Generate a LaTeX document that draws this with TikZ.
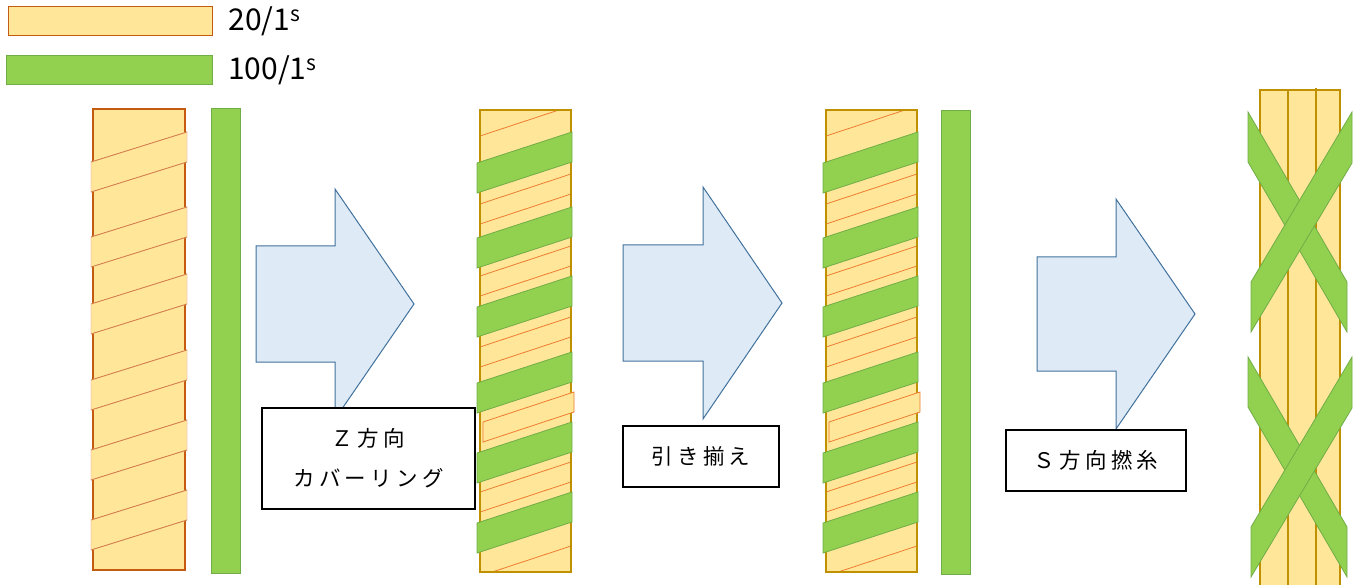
\documentclass[tikz,border=0pt]{standalone}
\usepackage{fontspec}
\setmainfont{Noto Sans CJK JP}
\newfontfamily\boxfont[LetterSpace=20]{Noto Sans CJK JP}
\usepackage{xcolor}
\usetikzlibrary{positioning}
\definecolor{YarnCream}{HTML}{FFE699}
\definecolor{YarnOrange}{HTML}{C55A11}
\definecolor{WrapOrange}{HTML}{ED7D31}
\definecolor{WrapLight}{HTML}{F8CBAD}
\definecolor{YarnGold}{HTML}{BF9000}
\definecolor{YarnGreen}{HTML}{92D050}
\definecolor{GreenEdge}{HTML}{70AD47}
\definecolor{FlowFill}{HTML}{DEEBF7}
\definecolor{FlowEdge}{HTML}{41719C}
\tikzset{
    % yarn bodies
    coarse yarn/.style={
        fill=YarnCream,
        draw=YarnOrange,
        line width=1.3pt
    },
    fine yarn/.style={
        fill=YarnGreen,
        draw=GreenEdge,
        line width=1pt
    },
    gold edge/.style={
        draw=YarnGold,
        line width=1.3pt
    },
    % wraps around a yarn
    cream band/.style={
        fill=YarnCream,
        draw=WrapLight,
        line width=0.8pt
    },
    wrap line/.style={
        draw=WrapOrange,
        line width=0.8pt
    },
    green band/.style={
        fill=YarnGreen,
        draw=GreenEdge,
        line width=0.8pt
    },
    % process arrows and their captions
    flow arrow/.style={
        fill=FlowFill,
        draw=FlowEdge,
        line width=1pt,
        line join=miter
    },
    stepbox/.style={
        rectangle,
        draw=black,
        line width=1.2pt,
        fill=white,
        align=center,
        font=\boxfont\fontsize{21.5pt}{40pt}\selectfont
    },
    legend text/.style={
        font=\fontsize{30pt}{34pt}\selectfont,
        inner sep=0pt
    }
}

\begin{document}
\begin{tikzpicture}[x=1pt, y=-1pt]
    \useasboundingbox (0,0) rectangle (1359,585);

    % Legend
    \node[coarse yarn, minimum width=204pt, minimum height=29pt, anchor=north west,
          inner sep=0pt] (key coarse) at (8,6) {};
    \node[legend text, right=15pt of key coarse] (key coarse label)
          {20/1\textsuperscript{s}};
    \node[fine yarn, minimum width=206pt, minimum height=29pt, anchor=north west,
          inner sep=0pt] (key fine) at (6,55) {};
    \node[legend text, right=15pt of key fine] (key fine label)
          {100/1\textsuperscript{s}};

    % Single coarse yarn and single fine yarn
    \draw[coarse yarn] (93,109) rectangle (185,570);
    \foreach \yl in {162,237,304,380,450,520}{
        \draw[cream band] (91,\yl) -- (187,\yl-30) -- (187,\yl) -- (91,\yl+30) -- cycle;
        \draw[wrap line, draw=YarnOrange!80] (91,\yl) -- (187,\yl-30)
            (187,\yl) -- (91,\yl+30);
    }
    \draw[fine yarn] (211,109) rectangle (240,573);

    % Covered yarn (twice: after covering and after doubling)
    \foreach \dx in {0,346}{
        \begin{scope}[shift={(\dx,0)}]
            \fill[YarnCream] (480,110) rectangle (571,572);
            \begin{scope}
                \clip (480,110) rectangle (571,572);
                \foreach \yl in {136,204,224,276,296,347,367,492,512,576}
                    \draw[wrap line] (480,\yl) -- (571,\yl-30);
            \end{scope}
            \draw[gold edge] (480,110) rectangle (571,572);
            \draw[cream band, draw=WrapOrange] (483,422) -- (574,392) -- (574,412)
                -- (483,442) -- cycle;
            \foreach \yl in {163,238,307,383,453,523}
                \draw[green band] (477,\yl) -- (572,\yl-31) -- (572,\yl-1) -- (477,\yl+30) -- cycle;
        \end{scope}
    }
    \draw[fine yarn] (941,111) rectangle (970,574);

    % Twisted yarn
    \fill[YarnCream] (1260,90) rectangle (1340,586);
    \draw[gold edge] (1260,586) -- (1260,90) -- (1340,90) -- (1340,586);
    \draw[gold edge] (1288,91) -- (1288,586);
    \draw[gold edge] (1316,88) -- (1316,586);
    \foreach \yt in {112,357}{
        \draw[green band] (1248,\yt) -- (1347,\yt+170) -- (1347,\yt+220) -- (1248,\yt+50) -- cycle;
        \draw[green band] (1251,\yt+170) -- (1352,\yt) -- (1352,\yt+51) -- (1251,\yt+220) -- cycle;
    }

    % Process arrows
    \draw[flow arrow] (256,246) -- (335,246) -- (335,189) -- (414,304)
        -- (335,419) -- (335,362) -- (256,362) -- cycle;
    \draw[flow arrow] (623,245) -- (703,245) -- (703,187) -- (782,303)
        -- (703,419) -- (703,361) -- (623,361) -- cycle;
    \draw[flow arrow] (1037,257) -- (1116,257) -- (1116,199) -- (1195,314)
        -- (1116,429) -- (1116,371) -- (1037,371) -- cycle;

    % Step captions
    \node[stepbox, minimum width=213pt, minimum height=101pt] (zcover)
          at (368.5,458.5) {Ｚ方向\\カバーリング};
    \node[stepbox, minimum width=156pt, minimum height=61pt] (doubling)
          at (701,456.5) {引き揃え};
    \node[stepbox, minimum width=180pt, minimum height=61pt] (stwist)
          at (1096,460.5) {Ｓ方向撚糸};
\end{tikzpicture}
\end{document}
